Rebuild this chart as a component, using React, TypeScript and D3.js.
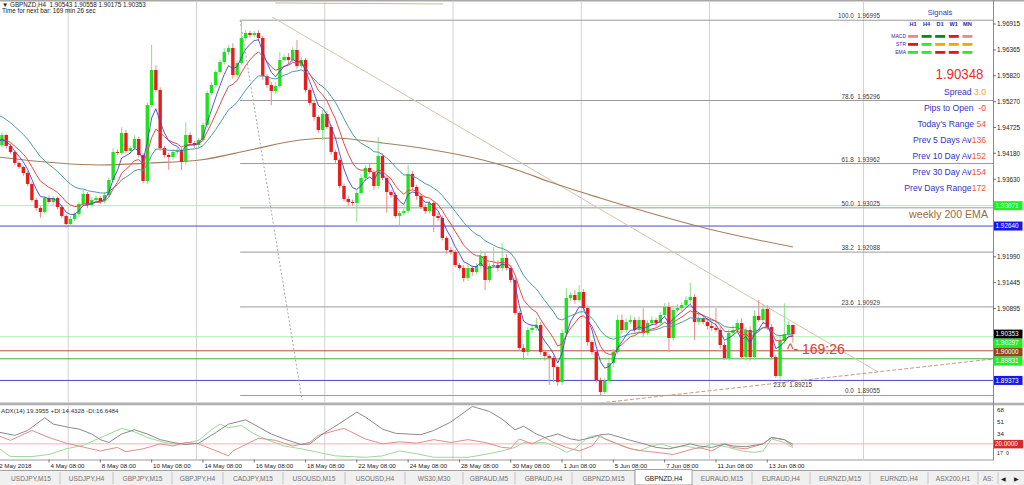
import React from "react";
import * as d3 from "d3";

// ---------------- DATA ----------------
const closes = [
  1.94355, 1.94566, 1.94334, 1.94207, 1.93974, 1.93889, 1.93762, 1.9353, 1.93191, 1.93022,
  1.92937, 1.93233, 1.93149, 1.93233, 1.93043, 1.92852, 1.92683, 1.92789, 1.92895, 1.93106,
  1.93318, 1.93085, 1.93191, 1.93233, 1.9317, 1.93297, 1.93614, 1.94207, 1.94186, 1.94609,
  1.94228, 1.94291, 1.94482, 1.94143, 1.93593, 1.95201, 1.95942, 1.95519, 1.94291, 1.94143,
  1.94101, 1.94207, 1.94249, 1.93995, 1.94566, 1.94397, 1.94355, 1.94461, 1.94778, 1.95455,
  1.95624, 1.95899, 1.96111, 1.96323, 1.96407, 1.95836, 1.9609, 1.96619, 1.96725, 1.96682,
  1.96725, 1.96619, 1.95815, 1.95624, 1.95497, 1.95603, 1.96153, 1.96217, 1.96153, 1.96365,
  1.96026, 1.96153, 1.95519, 1.95244, 1.94947, 1.94672, 1.95011, 1.94736, 1.94207, 1.94037,
  1.93487, 1.93212, 1.93149, 1.93128, 1.93339, 1.93657, 1.93868, 1.93783, 1.93487, 1.94122,
  1.93657, 1.9336, 1.93297, 1.92852, 1.92916, 1.92958, 1.93741, 1.93466, 1.93276, 1.93043,
  1.92958, 1.93128, 1.92852, 1.9281, 1.92387, 1.92133, 1.92091, 1.91816, 1.91752, 1.91541,
  1.91752, 1.91667, 1.91794, 1.92006, 1.91498, 1.91794, 1.91816, 1.91752, 1.91964, 1.91752,
  1.91498, 1.908, 1.90059, 1.89975, 1.9044, 1.90483, 1.90546, 1.89975, 1.8989, 1.89848,
  1.89657, 1.8934, 1.90377, 1.91117, 1.91181, 1.91075, 1.91244, 1.90906, 1.90186, 1.89975,
  1.89382, 1.89128, 1.89361, 1.89742, 1.89975, 1.90652, 1.9044, 1.90609, 1.90652, 1.9044,
  1.90652, 1.90377, 1.90588, 1.90652, 1.90588, 1.90758, 1.90927, 1.90271, 1.90863, 1.90906,
  1.90969, 1.91075, 1.91138, 1.90609, 1.90694, 1.90609, 1.90525, 1.90483, 1.9044, 1.90123,
  1.89848, 1.90377, 1.9044, 1.90588, 1.89869, 1.9044, 1.89869, 1.90736, 1.90652, 1.90885,
  1.90504, 1.89869, 1.89467, 1.90207, 1.90356, 1.90546, 1.90353,
];
const firstOpen = 1.94143;
const wickUpPips = [
  4, 6, 3, 5, 3, 4, 3, 4, 3, 5,
  4, 5, 6, 4, 3, 5, 4, 6, 5, 4,
  8, 4, 6, 5, 4, 6, 5, 8, 6, 12,
  6, 5, 8, 5, 4, 5, 53, 10, 6, 4,
  5, 6, 5, 4, 27, 6, 4, 5, 6, 5,
  6, 4, 5, 8, 6, 10, 5, 38, 6, 5,
  4, 6, 5, 4, 6, 8, 17, 6, 8, 6,
  21, 6, 4, 5, 6, 4, 8, 6, 4, 5,
  4, 5, 6, 5, 6, 8, 6, 10, 4, 40,
  6, 5, 4, 6, 4, 5, 19, 6, 5, 4,
  6, 5, 4, 8, 5, 4, 6, 5, 4, 6,
  8, 5, 6, 12, 8, 6, 38, 10, 32, 8,
  6, 5, 4, 8, 6, 8, 15, 6, 5, 4,
  5, 4, 8, 21, 6, 10, 15, 6, 5, 4,
  4, 5, 6, 8, 6, 10, 12, 8, 10, 6,
  8, 25, 6, 8, 5, 6, 8, 10, 6, 8,
  6, 8, 30, 6, 8, 6, 8, 10, 42, 8,
  6, 8, 10, 8, 10, 6, 8, 12, 34, 10,
  8, 6, 5, 12, 65, 8, 1,
];
const wickDownPips = [
  5, 4, 6, 4, 5, 4, 6, 5, 4, 6,
  12, 5, 4, 6, 5, 4, 8, 5, 4, 6,
  4, 6, 5, 4, 6, 5, 4, 6, 4, 5,
  5, 6, 4, 6, 5, 6, 5, 4, 6, 6,
  27, 6, 5, 17, 6, 5, 6, 5, 4, 6,
  5, 6, 4, 5, 6, 8, 5, 4, 6, 5,
  4, 6, 8, 6, 30, 6, 5, 4, 8, 5,
  6, 5, 6, 5, 8, 6, 21, 5, 6, 8,
  6, 5, 8, 6, 40, 5, 6, 5, 8, 6,
  5, 44, 6, 5, 21, 6, 5, 6, 8, 5,
  6, 5, 34, 6, 5, 8, 6, 5, 6, 8,
  6, 8, 5, 6, 21, 6, 5, 8, 6, 5,
  6, 5, 6, 17, 8, 6, 5, 6, 10, 57,
  32, 8, 6, 5, 6, 8, 5, 6, 8, 6,
  6, 8, 4, 6, 8, 5, 8, 6, 5, 8,
  6, 8, 5, 6, 8, 6, 5, 30, 6, 5,
  6, 5, 8, 38, 6, 5, 8, 6, 5, 8,
  4, 4, 6, 8, 2, 6, 8, 6, 5, 8,
  6, 5, 4, 8, 6, 5, 18,
];

// moving averages (period, value read at the first bar)
const emaPeriods = [20, 10, 5];
const emaSeeds = [1.9499, 1.94461, 1.94418];

// long brown EMA
const longEmaBars = [0, 24, 35.6, 47.3, 59, 70.7, 78.4, 90, 101.8, 113.5, 121.5, 129.2, 140.9, 152.6, 167.3, 186];
const longEmaValues = [1.94101, 1.93932, 1.93974, 1.94037, 1.94249, 1.94461, 1.94503, 1.94397, 1.94249, 1.94037, 1.93826, 1.93572, 1.93233, 1.92916, 1.92556, 1.92197];

// fibonacci retracement
const fibRatios = ["100.0", "78.6", "61.8", "50.0", "38.2", "23.6", "0.0"];
const fibPrices = [1.96995, 1.95296, 1.93962, 1.93025, 1.92088, 1.90929, 1.89055];
const fibStartBar = 56.7;
const fibLabelBar = 206.4;
const fib2Ratio = "23.6";
const fib2Price = 1.89215;
const fib2LabelBar = 190.5;

// horizontal level lines + axis markers
const levelPrices = [1.93071, 1.9264, 1.90297, 1.9, 1.89831, 1.89373];
const levelKinds = ["lightgreen", "blue", "lightgreen", "brown", "green", "blue"];
const bidPrice = 1.90353;

// trend lines [bar, price]
const trendUpper = [[64.2, 1.97063], [205.9, 1.89552]];
const trendLower = [[140.9, 1.88895], [232.8, 1.89827]];
const fibDiagonal = [[56.7, 1.96995], [71.2, 1.88959]];
const topLine = [[64.9, 1.9736], [104.2, 1.97339]];

const priceTicks = [1.96915, 1.96365, 1.9582, 1.9527, 1.94725, 1.9418, 1.9363, 1.93085, 1.9254, 1.9199, 1.91445, 1.90895, 1.9035, 1.89805, 1.89255];

const dateLabels = ["2 May 2018", "4 May 08:00", "8 May 08:00", "10 May 08:00", "14 May 08:00", "16 May 08:00", "18 May 08:00", "22 May 08:00", "24 May 08:00", "28 May 08:00", "30 May 08:00", "1 Jun 08:00", "5 Jun 08:00", "7 Jun 08:00", "11 Jun 08:00", "13 Jun 08:00"];
const dateBars = [0, 12, 24, 36, 48, 60, 72, 84, 96, 108, 120, 132, 144, 156, 168, 180];
const weekSeparatorBars = [16.5, 46.5, 76.5, 106.5, 136.5, 166.5, 202.5];

// ADX(14) panel, [bar, value]
const adxLine = [[0, 37], [4, 32], [7, 39], [11, 57], [13, 48], [17, 43], [19, 41], [22, 34], [24, 26], [26, 22], [29, 34], [32, 40], [35, 34], [38, 26], [41, 22], [44, 19], [47, 21], [51, 36], [54, 48], [58, 54], [61, 44], [64, 34], [67, 27], [71, 19], [73, 20], [76, 34], [80, 49], [84, 65], [86, 58], [90, 41], [93, 35], [99, 33], [102, 39], [106, 51], [111, 73], [115, 66], [118, 55], [121, 40], [123, 45], [126, 34], [128, 29], [131, 34], [134, 27], [136, 25], [139, 29], [141, 33], [143, 34], [148, 25], [150, 22], [154, 15], [157, 13], [160, 17], [162, 20], [164, 17], [167, 15], [170, 20], [172, 17], [175, 16], [179, 20], [181, 29], [184, 26], [186, 19.4]];
const minusDI = [[0, 32], [3, 25], [8, 39], [12, 29], [16, 21], [24, 10], [28, 15], [30, 9], [34, 13], [38, 20], [41, 17], [44, 22], [47, 20], [54, 3], [55, 10], [61, 28], [65, 25], [69, 17], [73, 22], [75, 32], [79, 39], [81, 42], [82, 39], [86, 27], [90, 20], [94, 23], [98, 21], [102, 26], [106, 22], [110, 26], [114, 22], [118, 15], [120, 14], [122, 27], [125, 20], [128, 29], [130, 22], [133, 15], [136, 10], [139, 17], [141, 32], [142, 27], [145, 20], [148, 13], [151, 10], [154, 8], [158, 5], [161, 10], [164, 15], [167, 10], [170, 20], [172, 15], [175, 13], [179, 20], [181, 29], [184, 26], [186, 16.6]];
const plusDI = [[0, 15], [3, 2], [8, 2], [12, 5], [16, 13], [20, 18], [26, 34], [29, 42], [32, 37], [35, 29], [39, 22], [41, 20], [44, 21], [47, 25], [50, 40], [52, 48], [54, 43], [57, 46], [60, 34], [63, 26], [67, 17], [71, 13], [75, 8], [79, 3], [86, 1], [90, 3], [94, 10], [98, 6], [102, 1], [106, 1], [110, 1], [114, 5], [118, 10], [121, 15], [123, 22], [125, 21], [128, 22], [131, 15], [133, 8], [135, 13], [138, 29], [140, 32], [143, 25], [146, 17], [150, 10], [152, 15], [155, 20], [158, 15], [161, 17], [164, 13], [167, 20], [171, 15], [174, 10], [177, 8], [179, 10], [181, 27], [184, 22], [186, 14.4]];
const adxTicks = [68, 51, 34];
const adxLowTicks = [17, 0];
const adxLevel = 20;

// header / info panel
const lastBarOHLC = [1.90543, 1.90558, 1.90175, 1.90353];
const timeToNextBar = "169:26";
const timeframes = ["H1", "H4", "D1", "W1", "MN"];
const signalRows = ["MACD", "STR", "EMA"];
const macdStates = ["weakDown", "up", "up", "down", "weakDown"];
const strStates = ["down", "upBright", "neutral", "neutral", "neutral"];
const emaStates = ["upBright", "upBright", "down", "down", "upBright"];
const bidDisplay = "1.90348";
const statLabels = ["Spread ", "Pips to Open  ", "Today's Range ", "Prev 5 Days Av", "Prev 10 Day Av", "Prev 30 Day Av", "Prev Days Range"];
const statValues = ["3.0", "-0", "54", "136", "152", "154", "172"];

const tabNames = ["USDJPY,M15", "USDJPY,H4", "GBPJPY,M15", "GBPJPY,H4", "CADJPY,M15", "USOUSD,M15", "USOUSD,H4", "WS30,M30", "GBPAUD,M5", "GBPAUD,H4", "GBPNZD,M15", "GBPNZD,H4", "EURAUD,M15", "EURAUD,H4", "EURNZD,M15", "EURNZD,H4", "ASX200,H1", "AS:"];
const activeTab = "GBPNZD,H4";

// ---------------- LAYOUT / STYLE ----------------
const FONT = '"Liberation Sans", Arial, Helvetica, sans-serif';
const W = 1024;
const H = 485;
const AX = 993;
const MAIN_TOP = 2;
const MAIN_BOTTOM = 402.5;
const ADX_TOP = 405.5;
const ADX_BOTTOM = 459.5;
const tabEdges = [2, 60, 113, 172, 223, 283, 345, 405, 463, 515, 572, 635, 692, 752, 810, 870, 928, 978, 998];

const stateColor: Record<string, string> = {
  weakDown: "#f08a78",
  up: "#0b8a0b",
  down: "#e81414",
  upBright: "#26ee26",
  neutral: "#f5a500",
};
const levelColor: Record<string, string> = {
  lightgreen: "#a8eea8",
  blue: "#4848c8",
  brown: "#b0503c",
  green: "#3cae3c",
};
const labelBg: Record<string, string> = {
  lightgreen: "#22ee22",
  blue: "#1616f0",
  brown: "#8b4a1c",
  green: "#22ee22",
  bid: "#000000",
};
const emaColors = ["#4c9aa6", "#e04a4a", "#4444cc"];
const BLUE_TXT = "#3434c4";
const VAL_TXT = "#f25a24";

export default function App() {
  const n = closes.length;
  const x = d3.scaleLinear().domain([0, n - 1]).range([-2.3, 792.9]);
  const y = d3.scaleLinear().domain([1.96915, 1.90895]).range([24, 308.5]);
  const ya = d3.scaleLinear().domain([0, 68]).range([458, 410]);

  const bars = closes.map((c, i) => {
    const o = i === 0 ? firstOpen : closes[i - 1];
    const h = Math.max(o, c) + wickUpPips[i] * 0.0001;
    const l = Math.min(o, c) - wickDownPips[i] * 0.0001;
    return { i, o, c, h, l };
  });

  const emas = emaPeriods.map((p, k) => {
    const a = 2 / (p + 1);
    let v = emaSeeds[k];
    return closes.map((c, i) => {
      if (i > 0) v = v + a * (c - v);
      return v;
    });
  });

  const emaLine = d3
    .line<number>()
    .x((_, i) => x(i))
    .y((v) => y(v));
  const longEmaPath = d3
    .line<number>()
    .curve(d3.curveMonotoneX)
    .x((_, i) => x(longEmaBars[i]))
    .y((v) => y(v))(longEmaValues);
  const segPath = d3
    .line<number[]>()
    .x((d) => x(d[0]))
    .y((d) => y(d[1]));
  const adxPath = d3
    .line<number[]>()
    .x((d) => x(d[0]))
    .y((d) => ya(d[1]));

  // axis marker labels with collision avoidance
  const markers = [
    ...levelPrices.map((p, i) => ({ p, kind: levelKinds[i] })),
    { p: bidPrice, kind: "bid" },
  ].sort((a, b) => b.p - a.p);
  const markerYs: number[] = [];
  markers.forEach((m, i) => {
    let yy = y(m.p);
    if (i > 0 && yy < markerYs[i - 1] + 9) yy = markerYs[i - 1] + 9;
    markerYs.push(yy);
  });
  // axis ticks hidden behind a marker label are not drawn
  const visibleTicks = priceTicks.filter((p) => markerYs.every((my) => Math.abs(y(p) - my) > 8));

  const stateRows = [macdStates, strStates, emaStates];

  return (
    <div style={{ position: "fixed", left: 0, top: 0, width: W, height: H, background: "#fff" }}>
      <svg width={W} height={H} style={{ display: "block" }} fontFamily={FONT}>
        <defs>
          <clipPath id="mainClip">
            <rect x={0} y={MAIN_TOP} width={AX} height={MAIN_BOTTOM - MAIN_TOP} />
          </clipPath>
          <clipPath id="adxClip">
            <rect x={0} y={ADX_TOP} width={AX} height={ADX_BOTTOM - ADX_TOP} />
          </clipPath>
        </defs>
        <rect x={0} y={0} width={W} height={H} fill="#ffffff" />

        {/* ---------- MAIN PANEL ---------- */}
        <g clipPath="url(#mainClip)">
          {weekSeparatorBars.map((b) => (
            <line key={"g" + b} x1={x(b)} x2={x(b)} y1={MAIN_TOP} y2={MAIN_BOTTOM} stroke="#d2d2d2" strokeWidth={1} />
          ))}
          {/* level lines */}
          {levelPrices.map((p, i) => (
            <line key={"lv" + i} x1={0} x2={AX} y1={y(p)} y2={y(p)} stroke={levelColor[levelKinds[i]]} strokeWidth={1} />
          ))}
          {/* fib lines */}
          {fibPrices.map((p, i) => (
            <g key={"fib" + i}>
              <line x1={x(fibStartBar)} x2={AX} y1={y(p)} y2={y(p)} stroke="#9a9a9a" strokeWidth={1} />
              <text x={x(fibLabelBar)} y={y(p) - 2} textAnchor="end" fontSize={6.3} fill="#3a3a3a" style={{ whiteSpace: "pre" }}>
                {fibRatios[i] + "  " + p.toFixed(5)}
              </text>
            </g>
          ))}
          <text x={x(fib2LabelBar)} y={y(fib2Price) - 1} textAnchor="end" fontSize={6.3} fill="#3a3a3a" style={{ whiteSpace: "pre" }}>
            {fib2Ratio + "  " + fib2Price.toFixed(5)}
          </text>
          {/* trend lines */}
          <path d={segPath(trendUpper) || ""} stroke="#d4c4ac" strokeWidth={1} fill="none" />
          <path d={segPath(trendLower) || ""} stroke="#c49a82" strokeWidth={1} fill="none" strokeDasharray="4,2" />
          <path d={segPath(fibDiagonal) || ""} stroke="#a8a8a8" strokeWidth={1} fill="none" strokeDasharray="2,2" />
          <path d={segPath(topLine) || ""} stroke="#c8b8a0" strokeWidth={1} fill="none" />
          {/* long EMA */}
          <path d={longEmaPath || ""} stroke="#a57e5e" strokeWidth={1.1} fill="none" />
          {/* candles */}
          {bars.map((b) => {
            const up = b.c >= b.o;
            const cx = x(b.i);
            const yt = y(Math.max(b.o, b.c));
            const yb = y(Math.min(b.o, b.c));
            return (
              <g key={"c" + b.i}>
                <line x1={cx} x2={cx} y1={y(b.h)} y2={y(b.l)} stroke={up ? "#86e286" : "#ea8a8a"} strokeWidth={1} />
                <rect x={cx - 1.7} y={yt} width={3.4} height={Math.max(1, yb - yt)} fill={up ? "#1ee21e" : "#e81c1c"} />
              </g>
            );
          })}
          {/* moving averages */}
          {emas.map((e, k) => (
            <path key={"ema" + k} d={emaLine(e) || ""} stroke={emaColors[k]} strokeWidth={k === 2 ? 0.9 : 1} fill="none" />
          ))}
          {/* countdown */}
          <text x={x(n - 1) - 6} y={354} fontSize={14} fill="#e23a3a">
            {"^- " + timeToNextBar}
          </text>
        </g>

        {/* header */}
        <text x={2} y={7.2} fontSize={6.3} fill="#222" style={{ whiteSpace: "pre" }}>
          {"\u25BC GBPNZD,H4  " + lastBarOHLC.map((v) => v.toFixed(5)).join(" ")}
        </text>
        <text x={2} y={13.2} fontSize={6.3} fill="#222">
          {"Time for next bar: " + timeToNextBar.replace(":", " min ") + " sec"}
        </text>

        {/* signals panel */}
        <text x={940} y={15} textAnchor="middle" fontSize={7.5} fill={BLUE_TXT}>
          Signals
        </text>
        {timeframes.map((t, k) => (
          <text key={"tf" + t} x={913 + k * 13.6} y={26} textAnchor="middle" fontSize={5.6} fontWeight="bold" fill="#2a2aa8">
            {t}
          </text>
        ))}
        {signalRows.map((r, ri) => (
          <g key={"sr" + r}>
            <text x={906} y={37.8 + ri * 8} textAnchor="end" fontSize={5} fill="#2a2aa8">
              {r}
            </text>
            {stateRows[ri].map((s, k) => (
              <rect key={k} x={908 + k * 13.6} y={35 + ri * 8} width={10} height={2.8} fill={stateColor[s]} />
            ))}
          </g>
        ))}
        <text x={959.5} y={78.5} textAnchor="middle" fontSize={15.5} fill="#e43030" textLength={48} lengthAdjust="spacingAndGlyphs">
          {bidDisplay}
        </text>
        {statLabels.map((l, i) => (
          <text key={"st" + i} x={986} y={94.5 + i * 16} textAnchor="end" fontSize={8.6} style={{ whiteSpace: "pre" }}>
            <tspan fill={BLUE_TXT}>{l}</tspan>
            <tspan fill={i === 0 ? "#f0a21e" : i === 1 ? "#ff3c14" : VAL_TXT}>{statValues[i]}</tspan>
          </text>
        ))}
        <text x={988} y={217.5} textAnchor="end" fontSize={10.6} fill="#9c6a40">
          weekly 200 EMA
        </text>

        {/* main panel frame */}
        <rect x={0} y={0} width={W} height={1.5} fill="#a8a8a8" />
        <rect x={0} y={MAIN_BOTTOM} width={AX + 31} height={2.8} fill="#b0b0b0" />

        {/* price axis */}
        <rect x={AX} y={MAIN_TOP} width={W - AX} height={MAIN_BOTTOM - MAIN_TOP} fill="#ffffff" />
        <line x1={AX + 0.5} x2={AX + 0.5} y1={0} y2={ADX_BOTTOM + 1} stroke="#8a8a8a" strokeWidth={1} />
        {visibleTicks.map((p) => (
          <g key={"pt" + p}>
            <line x1={AX} x2={AX + 3} y1={y(p)} y2={y(p)} stroke="#555" strokeWidth={0.8} />
            <text x={AX + 4} y={y(p) + 2.3} fontSize={6.4} fill="#222">
              {p.toFixed(5)}
            </text>
          </g>
        ))}
        {markers.map((m, i) => (
          <g key={"mk" + i}>
            <rect x={AX + 1} y={markerYs[i] - 4.5} width={28.5} height={9} fill={labelBg[m.kind]} />
            <text x={AX + 2.5} y={markerYs[i] + 2.3} fontSize={6.4} fill="#ffffff">
              {m.p.toFixed(5)}
            </text>
          </g>
        ))}

        {/* ---------- ADX PANEL ---------- */}
        <g clipPath="url(#adxClip)">
          {weekSeparatorBars.map((b) => (
            <line key={"ga" + b} x1={x(b)} x2={x(b)} y1={ADX_TOP} y2={ADX_BOTTOM} stroke="#d2d2d2" strokeWidth={1} />
          ))}
          <line x1={0} x2={AX} y1={ya(adxLevel)} y2={ya(adxLevel)} stroke="#f0b4b4" strokeWidth={1} />
          <path d={adxPath(plusDI) || ""} stroke="#9ad89a" strokeWidth={1} fill="none" />
          <path d={adxPath(minusDI) || ""} stroke="#e08c8c" strokeWidth={1} fill="none" />
          <path d={adxPath(adxLine) || ""} stroke="#8a8a8a" strokeWidth={1} fill="none" />
        </g>
        <text x={1} y={413} fontSize={6.2} fill="#303030">
          {"ADX(14) 19.3955 +DI:14.4328 -DI:16.6484"}
        </text>
        {adxTicks.map((t) => (
          <text key={"at" + t} x={AX + 4} y={ya(t) + 2.3} fontSize={6.2} fill="#222">
            {t}
          </text>
        ))}
        <rect x={AX + 1} y={ya(adxLevel) - 4} width={29} height={8.5} fill="#d42a2a" />
        <text x={AX + 2} y={ya(adxLevel) + 2.4} fontSize={6.3} fill="#ffffff">
          {adxLevel.toFixed(4)}
        </text>
        {adxLowTicks.map((t, i) => (
          <text key={"alt" + t} x={AX + 4 + i * 9} y={454.5} fontSize={5.2} fill="#222">
            {t}
          </text>
        ))}
        <line x1={0} x2={AX} y1={ADX_BOTTOM + 0.5} y2={ADX_BOTTOM + 0.5} stroke="#9a9a9a" strokeWidth={1} />

        {/* time axis */}
        {dateBars.map((b, i) => (
          <g key={"d" + b}>
            <line x1={x(b)} x2={x(b)} y1={ADX_BOTTOM} y2={ADX_BOTTOM + 3} stroke="#555" strokeWidth={0.8} />
            <text x={x(b) + 1.5} y={467.5} fontSize={6.2} fill="#222">
              {dateLabels[i]}
            </text>
          </g>
        ))}

        {/* ---------- TABS ---------- */}
        <rect x={0} y={470.5} width={W} height={14.5} fill="#f0f0f0" />
        <line x1={0} x2={W} y1={470.5} y2={470.5} stroke="#a0a0a0" strokeWidth={1} />
        {tabNames.map((t, i) => {
          const x0 = tabEdges[i];
          const x1 = tabEdges[i + 1];
          const active = t === activeTab;
          return (
            <g key={"tab" + i}>
              {active && <rect x={x0} y={469.5} width={x1 - x0} height={15.5} fill="#ffffff" stroke="#8a8a8a" strokeWidth={0.8} />}
              {!active && <line x1={x1} x2={x1} y1={472} y2={484} stroke="#c4c4c4" strokeWidth={1} />}
              <text x={(x0 + x1) / 2} y={481} textAnchor="middle" fontSize={6.6} fill={active ? "#202020" : "#707070"}>
                {t}
              </text>
            </g>
          );
        })}
        <text x={1003} y={481} textAnchor="middle" fontSize={6} fill="#202020">
          {"\u25C0"}
        </text>
        <text x={1016} y={481} textAnchor="middle" fontSize={6} fill="#202020">
          {"\u25B6"}
        </text>
      </svg>
    </div>
  );
}
